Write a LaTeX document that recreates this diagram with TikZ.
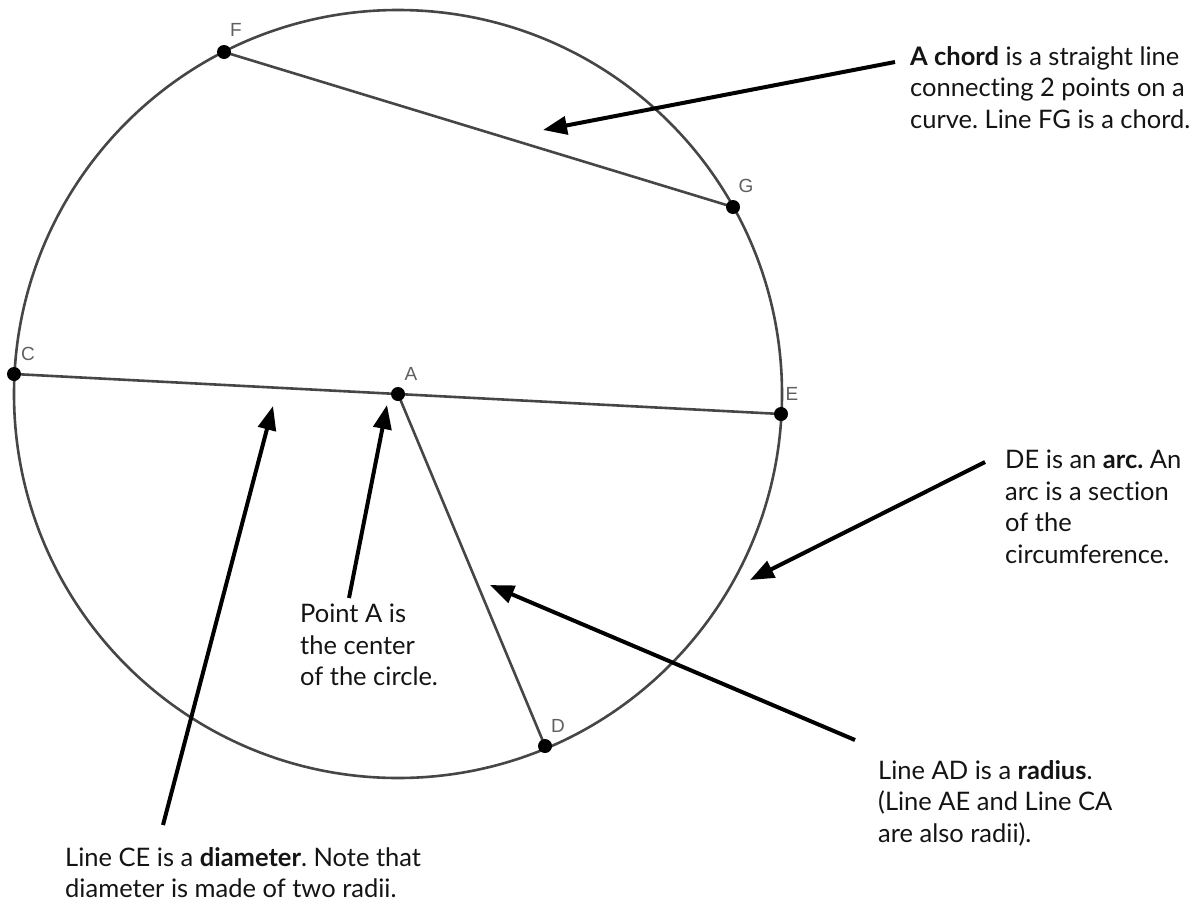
\documentclass[tikz,border=0pt]{standalone}
\usepackage{fontspec}
\setmainfont{Lato}[Ligatures=NoCommon]
\newfontfamily\ptfont{Liberation Sans}
\usepackage{xcolor}
\definecolor{circlegray}{RGB}{70,70,70}
\definecolor{labelgray}{RGB}{95,95,95}
\definecolor{notetext}{RGB}{20,20,20}
\usetikzlibrary{arrows.meta}
\frenchspacing

\tikzset{
  geoline/.style={line width=2.6pt, circlegray},
  pointer/.style={line width=4pt, black, -{Triangle[length=24pt,width=18pt]}},
  note/.style={anchor=north west, align=left, inner sep=0pt, notetext,
    font=\fontsize{25.5}{31.5}\selectfont},
  ptlabel/.style={labelgray, inner sep=0pt, font=\ptfont\fontsize{19}{19}\selectfont}
}

\begin{document}
\begin{tikzpicture}[x=1pt, y=-1pt]
    \useasboundingbox (0,0) rectangle (1199,911);

    % circle and its points
    \coordinate (A) at (398,394);
    \coordinate (F) at (224,52);
    \coordinate (G) at (733,207);
    \coordinate (C) at (14,374);
    \coordinate (E) at (781,414);
    \coordinate (D) at (545,746);

    \draw[geoline] (A) circle (384);
    \draw[geoline] (F) -- (G);
    \draw[geoline] (C) -- (E);
    \draw[geoline] (A) -- (D);

    \foreach \p in {A,F,G,C,E,D}
        \fill[black] (\p) circle (7);

    \node[ptlabel] (labF) at (236,30) {F};
    \node[ptlabel] (labG) at (746,186) {G};
    \node[ptlabel] (labC) at (28,354) {C};
    \node[ptlabel] (labA) at (411,374) {A};
    \node[ptlabel] (labE) at (792,394) {E};
    \node[ptlabel] (labD) at (558,726) {D};

    % notes
    \node[note] (chordnote) at (910,46) {\textbf{A chord} is a straight line\\connecting 2 points on a\\curve. Line FG is a chord.};
    \node[note] (arcnote) at (1005,450) {DE is an \textbf{arc.} An\\arc is a section\\of the\\circumference.};
    \node[note] (radiusnote) at (878,760) {Line AD is a \textbf{radius}.\\(Line AE and Line CA\\are also radii).};
    \node[note] (centernote) at (300,604) {Point A is\\the center\\of the circle.};
    \node[note] (diamnote) at (65,847) {Line CE is a \textbf{diameter}. Note that\\diameter is made of two radii.};

    % pointers
    \coordinate (chordtail) at (895,62);
    \coordinate (chordhead) at (543,130);
    \coordinate (arctail) at (985,462);
    \coordinate (archead) at (750,580);
    \coordinate (radiustail) at (855,740);
    \coordinate (radiushead) at (490,585);
    \coordinate (centertail) at (349,598);
    \coordinate (centerhead) at (387,405);
    \coordinate (diamtail) at (163,825);
    \coordinate (diamhead) at (273,406);

    \draw[pointer] (chordtail) -- (chordhead);
    \draw[pointer] (arctail) -- (archead);
    \draw[pointer] (radiustail) -- (radiushead);
    \draw[pointer] (centertail) -- (centerhead);
    \draw[pointer] (diamtail) -- (diamhead);
\end{tikzpicture}
\end{document}
